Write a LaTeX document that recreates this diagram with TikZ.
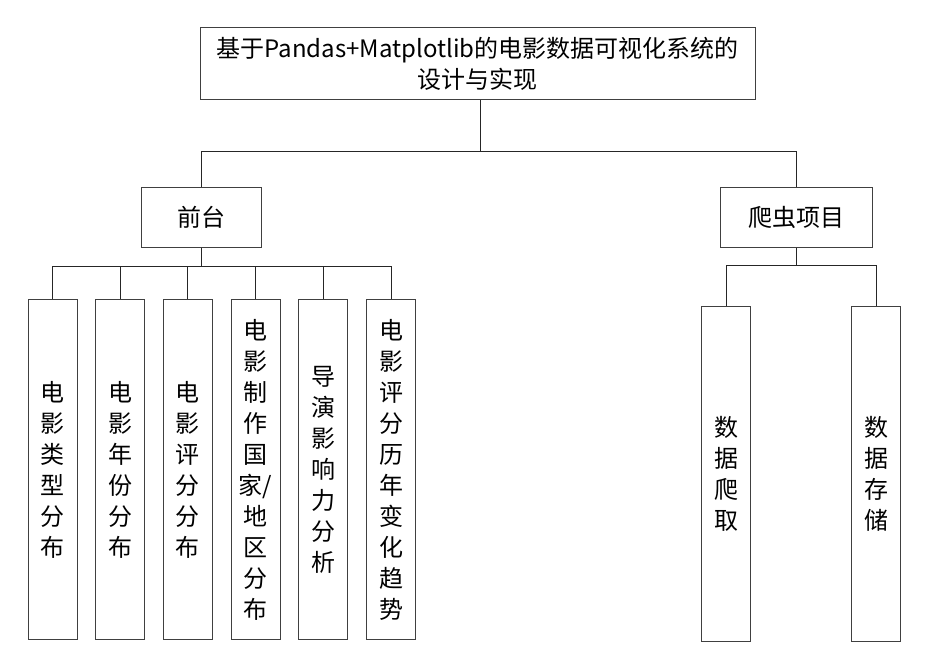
\documentclass[tikz,border=0pt]{standalone}
\usepackage{fontspec}
\setmainfont{Noto Sans CJK SC}
\usetikzlibrary{positioning}
\tikzset{
  box/.style={draw=black!75, line width=0.75pt, inner sep=0pt, align=center,
    font=\fontsize{18}{23.25}\selectfont},
  leaf/.style={box, anchor=north, minimum width=36.75pt, minimum height=255pt},
  link/.style={draw=black!85, line width=0.75pt}
}
\begin{document}
\begin{tikzpicture}[x=0.75pt, y=-0.75pt]
    \useasboundingbox (0,0) rectangle (930,670);
    %
    \node [box, minimum width=416.25pt, minimum height=54pt] (title) at (477.5,64)
      {基于Pandas+Matplotlib的电影数据可视化系统的\\设计与实现};
    \node [box, minimum width=90pt, minimum height=44.25pt] (front) at (201,217.5) {前台};
    \node [box, minimum width=114pt, minimum height=44.25pt] (spider) at (796,217.5) {爬虫项目};
    %
    \node [leaf] (f1) at (52.5,299) {电\\影\\类\\型\\分\\布};
    \node [leaf] (f2) at (120,299) {电\\影\\年\\份\\分\\布};
    \node [leaf] (f3) at (187.5,299) {电\\影\\评\\分\\分\\布};
    \node [leaf] (f4) at (255.5,299) {电\\影\\制\\作\\国\\家/\\地\\区\\分\\布};
    \node [leaf] (f5) at (323,299) {导\\演\\影\\响\\力\\分\\析};
    \node [leaf] (f6) at (391,299) {电\\影\\评\\分\\历\\年\\变\\化\\趋\\势};
    \node [leaf, minimum height=251.25pt] (s1) at (726,306) {数\\据\\爬\\取};
    \node [leaf, minimum height=251.25pt] (s2) at (876,306) {数\\据\\存\\储};
    %
    \coordinate (split) at (480,152);
    \coordinate (fsplit) at (201,266);
    \coordinate (ssplit) at (796,265);
    %
    \path [link] (split |- title.south) -- (split) -| (front.north);
    \path [link] (split) -| (spider.north);
    \path [link] (front.south) -- (fsplit);
    \foreach \i in {1,...,6}
      \path [link] (fsplit) -| (f\i.north);
    \path [link] (spider.south) -- (ssplit);
    \foreach \i in {1,2}
      \path [link] (ssplit) -| (s\i.north);
\end{tikzpicture}
\end{document}
